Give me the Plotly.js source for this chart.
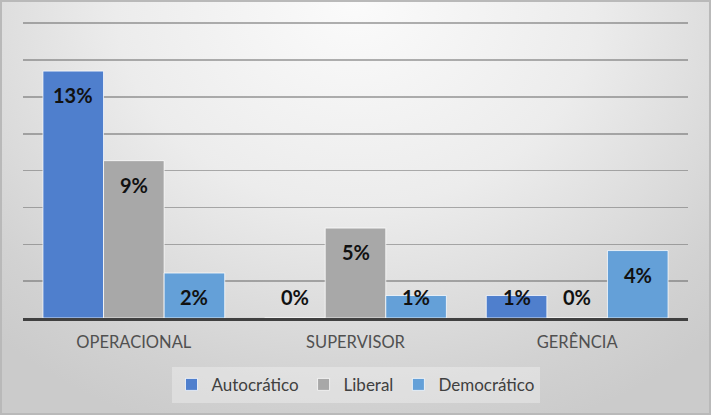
<!DOCTYPE html>
<html>
<head>
<meta charset="utf-8">
<script src="https://cdn.plot.ly/plotly-3.0.1.min.js"></script>
<style>
  html, body { margin: 0; padding: 0; }
  #wrap { position: relative; width: 711px; height: 415px;
    background: radial-gradient(ellipse 75% 110% at 50% 0%, #fbfbfb 0%, #ececec 45%, #d2d2d2 85%, #cbcbcb 100%); }
  #chart { position: absolute; left: 0; top: 0; width: 711px; height: 415px; }
  #frame { position: absolute; left: 0; top: 0; width: 711px; height: 415px; box-sizing: border-box;
    border: 2px solid #b9b9b9; pointer-events: none; }
</style>
</head>
<body>
<div id="wrap"><div id="chart"></div><div id="frame"></div></div>
<script>
const categories = ['OPERACIONAL', 'SUPERVISOR', 'GERÊNCIA'];
const seriesNames = ['Autocrático', 'Liberal', 'Democrático'];
const autocratico = [0.134, 0, 0.0122];
const liberal = [0.0854, 0.0488, 0];
const democratico = [0.0244, 0.0122, 0.0366];
const seriesValues = [autocratico, liberal, democratico];
const colors = ['#4f7fcd', '#a8a8a8', '#64a0d8'];

const FONT = 'Lato, Open Sans, sans-serif';
const bargap = 0.18;
const barW = (1 - bargap) / seriesNames.length;
const labelDrop = 0.013;   // label centre below bar top (data units)
const labelFloor = 0.0114; // minimum label centre height

const traces = seriesNames.map((name, i) => ({
  type: 'bar', name: name, x: categories, y: seriesValues[i],
  marker: { color: colors[i], line: { color: 'rgba(255,255,255,0.75)', width: 1 } },
  hoverinfo: 'skip'
}));

const annotations = [];
seriesValues.forEach((vals, i) => {
  vals.forEach((v, j) => {
    annotations.push({
      xref: 'x', yref: 'y',
      x: j + (i - (seriesNames.length - 1) / 2) * barW,
      y: Math.max(v - labelDrop, labelFloor),
      text: '<b>' + Math.round(v * 100) + '%</b>',
      showarrow: false, xanchor: 'center', yanchor: 'middle',
      font: { family: FONT, size: 20, color: '#111111' }
    });
  });
});

const layout = {
  width: 711, height: 415,
  margin: { l: 23, r: 23, t: 21, b: 97 },
  paper_bgcolor: 'rgba(0,0,0,0)', plot_bgcolor: 'rgba(0,0,0,0)',
  barmode: 'group', bargap: bargap, bargroupgap: 0,
  font: { family: FONT, color: '#505050' },
  xaxis: {
    type: 'category', showgrid: false, zeroline: false,
    showline: true, linecolor: '#404040', linewidth: 3,
    ticks: 'outside', ticklen: 7, tickcolor: 'rgba(0,0,0,0)',
    tickfont: { family: FONT, size: 16.5, color: '#505050' }
  },
  yaxis: {
    range: [0, 0.1612], tickvals: [0.02, 0.04, 0.06, 0.08, 0.10, 0.12, 0.14, 0.16], showticklabels: false,
    showgrid: true, gridcolor: 'rgba(100,100,100,0.5)', gridwidth: 1.5,
    zeroline: false, showline: false
  },
  legend: {
    orientation: 'h', x: 0.5, xanchor: 'center', y: -0.225, yanchor: 'middle',
    bgcolor: 'rgba(255,255,255,0.3)',
    font: { family: FONT, size: 17, color: '#404040' },
    itemclick: false
  },
  annotations: annotations,
  showlegend: true
};

Plotly.newPlot('chart', traces, layout, { staticPlot: true, displayModeBar: false });
</script>
</body>
</html>
